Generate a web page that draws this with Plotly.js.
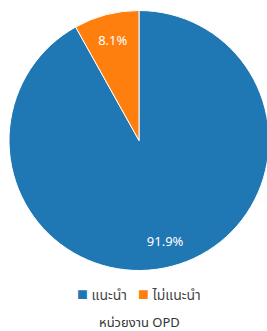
<!DOCTYPE html>
<html><head><meta charset="utf-8">
<script src="https://cdn.plot.ly/plotly-3.0.1.min.js"></script>
<style>html,body{margin:0;padding:0;overflow:hidden;background:#fff}</style>
</head><body>
<div id="chart"></div>
<script>
const labels = ["แนะนำ", "ไม่แนะนำ"];
const values = [91.9, 8.1];
const colors = ["#1f77b4", "#ff7f0e"];
const chartTitle = "หน่วยงาน OPD";

const font = "Noto Sans, Noto Sans Thai, Roboto, sans-serif";
const common = {
  type: "pie", labels: labels, values: values, sort: false,
  direction: "clockwise", rotation: 0, hoverinfo: "none", showlegend: false
};
// full pie (slices with white borders)
const base = Object.assign({}, common, {
  textinfo: "none",
  marker: {colors: colors, line: {color: "#ffffff", width: 1}}
});
// transparent ring on top: only carries the percent labels, placed in the outer part of each slice
const labelsRing = Object.assign({}, common, {
  hole: 0.6,
  textinfo: "percent",
  texttemplate: "%{percent:.1%}",
  textposition: "inside",
  insidetextorientation: "horizontal",
  insidetextfont: {color: "#ffffff", size: 13, family: font},
  marker: {colors: labels.map(() => "rgba(0,0,0,0)"), line: {width: 0}}
});

const legendText = labels.map((l, i) =>
  `<span style="color:${colors[i]};font-size:18px">■</span> ${l}`).join("   ");

Plotly.newPlot("chart", [base, labelsRing], {
  width: 270, height: 331,
  margin: {l: 9, r: 1, t: 10, b: 60},
  paper_bgcolor: "#ffffff",
  font: {family: font, color: "#444444", size: 13},
  showlegend: false,
  annotations: [
    {text: legendText, showarrow: false, xref: "paper", yref: "paper",
     x: 0.5, y: -0.084, xanchor: "center", yanchor: "middle",
     font: {size: 14, color: "#444444", family: font}},
    {text: chartTitle, showarrow: false, xref: "paper", yref: "paper",
     x: 0.5, y: -0.195, xanchor: "center", yanchor: "middle",
     font: {size: 13, color: "#333333", family: font}}
  ]
}, {displayModeBar: false, staticPlot: true});
</script>
</body></html>
